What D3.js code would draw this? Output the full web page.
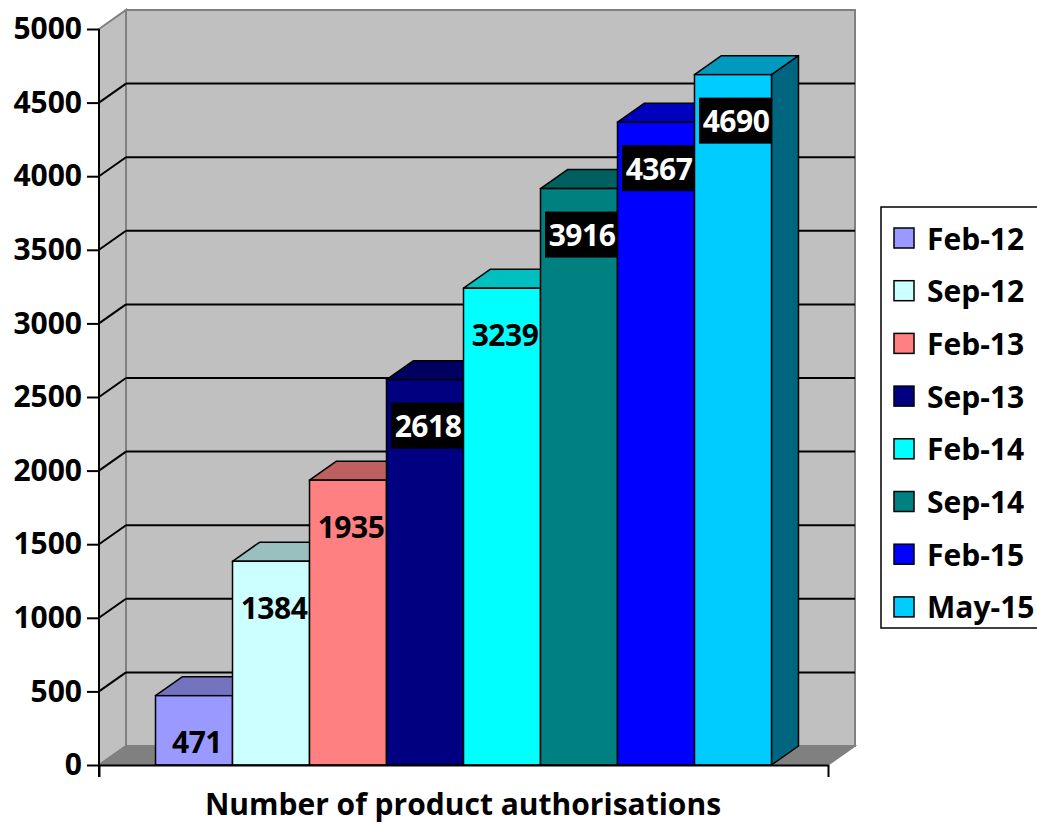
<!DOCTYPE html>
<html>
<head>
<meta charset="utf-8">
<script src="https://cdn.jsdelivr.net/npm/d3@7"></script>
<style>
  body { margin: 0; background: #fff; }
  text { font-family: "Open Sans", Lato, sans-serif; font-weight: bold; }
</style>
</head>
<body>
<div id="chart"></div>
<script>
// chart data
const months = ['Feb-12', 'Sep-12', 'Feb-13', 'Sep-13', 'Feb-14', 'Sep-14', 'Feb-15', 'May-15'];
const authorisations = [471, 1384, 1935, 2618, 3239, 3916, 4367, 4690];
const yTicks = [0, 500, 1000, 1500, 2000, 2500, 3000, 3500, 4000, 4500, 5000];
const axisTitle = 'Number of product authorisations';

// styling (not data)
const barColors = ['#9999FF', '#CCFFFF', '#FF8080', '#000080', '#00FFFF', '#008080', '#0000FF', '#00CCFF'];
const invertedLabels = ['Sep-13', 'Sep-14', 'Feb-15', 'May-15'];

const width = 1037, height = 824;
const plot = { left: 99, right: 828, top: 29, bottom: 765 };
const depth = { dx: 27, dy: -19 };
const fontSize = 30;
const fontFamily = '"Open Sans", Lato, sans-serif';

const svg = d3.select('#chart').append('svg')
  .attr('width', width)
  .attr('height', height);

svg.append('rect').attr('width', width).attr('height', height).attr('fill', '#fff');

const yScale = d3.scaleLinear()
  .domain([0, 5000])
  .range([plot.bottom, plot.top]);

const xScale = d3.scaleBand()
  .domain(months)
  .range([plot.left, plot.right])
  .paddingInner(0)
  .paddingOuter(0.734);

const shade = (c, k) => {
  const rgb = d3.rgb(c);
  return d3.rgb(rgb.r * k, rgb.g * k, rgb.b * k).formatHex();
};

const y0 = yScale(0), yMax = yScale(5000);
const pts = arr => arr.map(p => p.join(',')).join(' ');

// back wall
svg.append('rect')
  .attr('x', plot.left + depth.dx)
  .attr('y', yMax + depth.dy)
  .attr('width', plot.right - plot.left)
  .attr('height', y0 - yMax)
  .attr('fill', '#C0C0C0')
  .attr('stroke', '#808080')
  .attr('stroke-width', 2);

// side wall
svg.append('polygon')
  .attr('points', pts([[plot.left, yMax], [plot.left + depth.dx, yMax + depth.dy], [plot.left + depth.dx, y0 + depth.dy], [plot.left, y0]]))
  .attr('fill', '#C0C0C0')
  .attr('stroke', '#808080')
  .attr('stroke-width', 2);

// floor
svg.append('polygon')
  .attr('points', pts([[plot.left, y0], [plot.right, y0], [plot.right + depth.dx, y0 + depth.dy], [plot.left + depth.dx, y0 + depth.dy]]))
  .attr('fill', '#808080')
  .attr('stroke', '#808080')
  .attr('stroke-width', 1.5);

// gridlines
const grid = svg.append('g').attr('class', 'grid');
yTicks.filter(t => t > 0 && t < 5000).forEach(t => {
  grid.append('line')
    .attr('x1', plot.left + depth.dx).attr('x2', plot.right + depth.dx)
    .attr('y1', yScale(t) + depth.dy).attr('y2', yScale(t) + depth.dy)
    .attr('stroke', '#000').attr('stroke-width', 2);
  grid.append('line')
    .attr('x1', plot.left).attr('x2', plot.left + depth.dx)
    .attr('y1', yScale(t)).attr('y2', yScale(t) + depth.dy)
    .attr('stroke', '#000').attr('stroke-width', 2);
});

// bars, drawn left to right so each front face covers the previous side
const bars = svg.append('g').attr('class', 'bars');
months.forEach((m, i) => {
  const x = xScale(m);
  const w = xScale.bandwidth();
  const yTop = yScale(authorisations[i]);
  const c = barColors[i];
  const g = bars.append('g');
  g.append('polygon')
    .attr('points', pts([[x + w, yTop], [x + w + depth.dx, yTop + depth.dy], [x + w + depth.dx, y0 + depth.dy], [x + w, y0]]))
    .attr('fill', shade(c, 0.5))
    .attr('stroke', '#000').attr('stroke-width', 1.5).attr('stroke-linejoin', 'round');
  g.append('polygon')
    .attr('points', pts([[x, yTop], [x + depth.dx, yTop + depth.dy], [x + w + depth.dx, yTop + depth.dy], [x + w, yTop]]))
    .attr('fill', shade(c, 0.75))
    .attr('stroke', '#000').attr('stroke-width', 1.5).attr('stroke-linejoin', 'round');
  g.append('rect')
    .attr('x', x).attr('y', yTop)
    .attr('width', w).attr('height', y0 - yTop)
    .attr('fill', c)
    .attr('stroke', '#000').attr('stroke-width', 1.5);
});

// axes
svg.append('g')
  .attr('class', 'y-axis')
  .attr('transform', `translate(${plot.left},0)`)
  .call(d3.axisLeft(yScale).tickValues(yTicks).tickFormat(d3.format('d')).tickSize(12).tickSizeOuter(0).tickPadding(5))
  .call(g => g.select('.domain').attr('stroke-width', 2).attr('d', `M0,${plot.top}V${plot.bottom + 12}`))
  .call(g => g.selectAll('.tick line').attr('stroke-width', 2))
  .call(g => g.selectAll('.tick text').attr('font-size', fontSize).attr('fill', '#000')
    .style('font-family', fontFamily).style('font-weight', 'bold'));

const xEdge = d3.scaleLinear().domain([0, 1]).range([plot.left, plot.right]);
svg.append('g')
  .attr('class', 'x-axis')
  .attr('transform', `translate(0,${plot.bottom})`)
  .call(d3.axisBottom(xEdge).tickValues([0, 1]).tickSize(12).tickSizeOuter(0).tickFormat(''))
  .call(g => g.select('.domain').attr('stroke-width', 2))
  .call(g => g.selectAll('.tick line').attr('stroke-width', 2));

// data labels
const labels = svg.append('g').attr('class', 'labels');
months.forEach((m, i) => {
  const cx = xScale(m) + xScale.bandwidth() / 2 + 3;
  const cy = yScale(authorisations[i]) + 46;
  const inv = invertedLabels.includes(m);
  if (inv) {
    labels.append('rect')
      .attr('x', cx - 37).attr('y', cy - 23)
      .attr('width', 73).attr('height', 46)
      .attr('fill', '#000');
  }
  labels.append('text')
    .attr('x', cx).attr('y', cy)
    .attr('text-anchor', 'middle')
    .attr('dominant-baseline', 'central')
    .attr('font-size', fontSize)
    .attr('letter-spacing', -0.5)
    .attr('fill', inv ? '#fff' : '#000')
    .text(authorisations[i]);
});

// axis title
svg.append('text')
  .attr('x', 463).attr('y', 803)
  .attr('text-anchor', 'middle')
  .attr('dominant-baseline', 'central')
  .attr('font-size', fontSize)
  .attr('fill', '#000')
  .text(axisTitle);

// legend
const legend = svg.append('g').attr('class', 'legend');
legend.append('rect')
  .attr('x', 881).attr('y', 207)
  .attr('width', 200).attr('height', 421)
  .attr('fill', '#fff').attr('stroke', '#000').attr('stroke-width', 1.5);
months.forEach((m, i) => {
  const cy = 238 + i * 52.7;
  legend.append('rect')
    .attr('x', 894).attr('y', cy - 10)
    .attr('width', 20).attr('height', 20)
    .attr('fill', barColors[i]).attr('stroke', '#000').attr('stroke-width', 1.5);
  legend.append('text')
    .attr('x', 927).attr('y', cy)
    .attr('dominant-baseline', 'central')
    .attr('font-size', fontSize)
    .attr('fill', '#000')
    .text(m);
});
</script>
</body>
</html>
